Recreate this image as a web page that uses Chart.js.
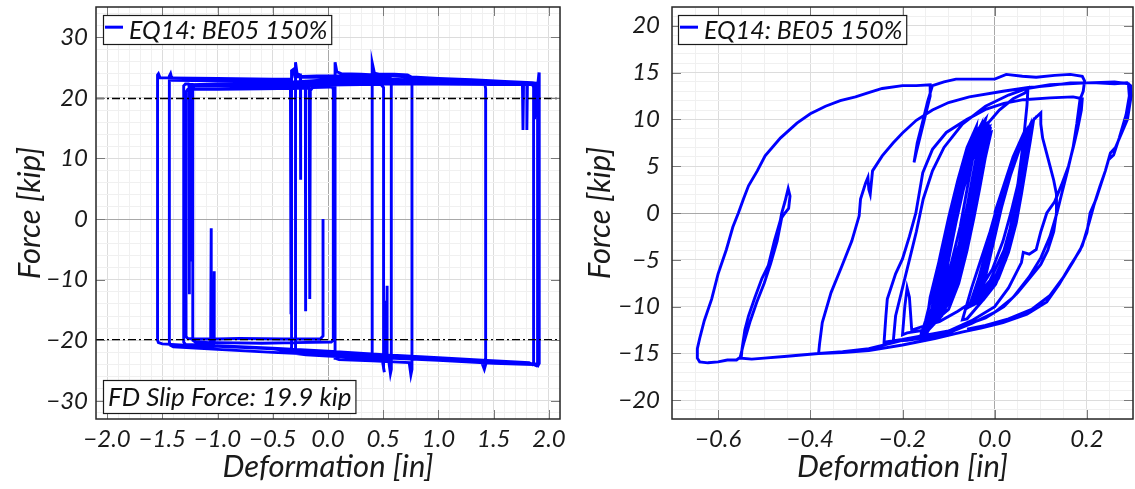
<!DOCTYPE html>
<html><head><meta charset="utf-8">
<script src="https://cdn.jsdelivr.net/npm/chart.js@4.4.0/dist/chart.umd.min.js"></script>
<style>
html,body{margin:0;padding:0;background:#fff;width:1135px;height:489px;overflow:hidden}
canvas{position:absolute;top:0}
#c1{left:0}
#c2{left:567px}
</style></head><body>
<canvas id="c1" width="567" height="489"></canvas>
<canvas id="c2" width="568" height="489"></canvas>
<script>
// ---------------- DATA ----------------
const legendLabel = 'EQ14: BE05 150%';
const slipText = 'FD Slip Force: 19.9 kip';
const slipForce = 19.9;
const slipLineDef = [-2.1, 2.1];

const fdDefTicks = [-2.0, -1.5, -1.0, -0.5, 0.0, 0.5, 1.0, 1.5, 2.0];
const fdForceTicks = [-30, -20, -10, 0, 10, 20, 30];
const wallDefTicks = [-0.6, -0.4, -0.2, 0.0, 0.2];
const wallForceTicks = [-20, -15, -10, -5, 0, 5, 10, 15, 20];

// friction damper hysteresis: [deformation (in), force (kip)]
const fdPath = [
[-0.045,0],[-0.045,-19.3],[-0.07,-19.8],
[-0.4,-19.8],[-0.8,-19.7],[-1.0,-19.8],[-1.2,-19.8],[-1.27,-19.7],[-1.285,-19.4],
[-1.285,21.0],[-1.27,21.4],[-1.0,21.4],[-0.6,21.5],[-0.3,21.6],[-0.17,21.6],
[-0.165,21.5],[-0.165,-13.2],[-0.16,21.2],[-0.14,21.7],[0.02,21.8],[0.04,21.7],
[0.048,21.4],[0.048,-20.0],[0.03,-20.3],[-0.3,-20.4],[-0.6,-20.5],
[-1.0,-20.4],[-1.03,-20.4],[-1.03,-8.6],[-1.035,-20.5],
[-1.057,-20.4],[-1.057,-1.5],[-1.062,-20.4],
[-1.2,-20.3],[-1.224,-20.0],
[-1.224,21.6],[-1.21,21.9],[-0.8,21.9],[-0.4,22.0],[-0.21,22.0],
[-0.205,21.9],[-0.205,-15.2],[-0.2,21.5],[-0.18,22.0],
[0.0,22.1],[0.3,22.2],[0.48,22.2],[0.503,21.7],
[0.503,-24.6],[0.51,-25.3],[0.49,-23.1],
[0.2,-22.8],[0.0,-22.6],[-0.2,-22.3],[-0.3,-22.1],[-0.33,-21.7],
[-0.33,24.5],[-0.315,24.7],[-0.3,23.5],
[-0.1,23.6],[0.2,23.6],[0.5,23.5],[0.56,23.4],[0.573,22.9],
[0.573,-24.8],[0.565,-25.5],[0.55,-23.4],
[0.535,-23.3],[0.535,-11.0],[0.53,-23.3],[0.52,-23.3],[0.52,-13.5],[0.515,-23.3],
[0.43,-23.2],[0.4,-22.9],
[0.4,25.8],[0.42,24.1],[0.46,23.9],[0.6,23.9],[0.72,23.8],[0.75,23.5],[0.76,22.6],
[0.76,-24.8],[0.75,-25.7],[0.735,-23.7],
[0.4,-23.4],[0.1,-23.2],[0.07,-23.0],[0.064,-22.5],
[0.064,25.9],[0.08,24.3],[0.12,24.0],
[0.3,23.9],[0.5,23.7],[0.8,23.4],[1.0,23.2],[1.3,23.0],[1.6,22.7],[1.85,22.5],[1.9,22.4],[1.91,24.2],[1.912,22.3],
[1.912,-23.8],[1.9,-24.2],[1.88,-23.9],
[1.5,-23.5],[1.0,-23.0],[0.5,-22.5],[0.0,-22.1],[-0.3,-21.9],[-0.5,-21.4],[-1.0,-21.0],[-1.3,-20.8],[-1.5,-20.6],[-1.535,-20.4],[-1.543,-20.0],
[-1.543,23.8],[-1.535,24.0],[-1.52,23.3],[-1.45,23.3],
[-1.0,23.2],[-0.5,23.1],[-0.34,23.1],
[-0.335,23.0],[-0.335,-15.7],[-0.33,22.6],
[0.0,23.0],[0.5,22.9],[1.0,22.8],[1.5,22.6],[1.76,22.4],
[1.765,22.4],[1.765,14.7],[1.77,22.3],[1.80,22.3],[1.80,14.7],[1.805,22.3],
[1.86,22.2],[1.87,16.5],[1.878,22.2],[1.897,22.1],
[1.897,-23.9],[1.885,-24.2],[1.86,-24.0],
[1.5,-23.8],[1.0,-23.3],[0.5,-22.9],[0.0,-22.6],[-0.2,-22.4],[-0.28,-22.2],[-0.294,-21.6],
[-0.294,25.9],[-0.28,24.0],[-0.255,23.8],
[-0.25,23.8],[-0.25,6.5],[-0.245,23.4],
[0.0,23.4],[0.5,23.1],[1.0,22.9],[1.38,22.7],[1.42,22.3],[1.427,21.5],
[1.427,-24.0],[1.415,-24.8],[1.39,-23.6],
[1.0,-23.2],[0.5,-22.8],[0.0,-22.4],[-0.5,-22.0],[-1.0,-21.5],[-1.4,-21.1],[-1.43,-20.8],[-1.436,-20.3],
[-1.436,23.6],[-1.425,24.0],[-1.41,22.9],
[-1.0,22.8],[-0.5,22.7],[0.0,22.6],[0.5,22.5],[1.0,22.4],[1.5,22.3],[1.85,22.2],[1.861,21.8],
[1.861,-23.6],[1.85,-24.0],[1.82,-23.7],
[1.4,-23.3],[1.0,-22.9],[0.5,-22.4],[0.0,-21.8],[-0.5,-21.3],[-1.0,-20.9],[-1.29,-20.7],[-1.306,-20.3],
[-1.306,22.0],[-1.29,22.3],[-1.262,22.3],
[-1.258,22.2],[-1.258,-12.4],[-1.252,22.2],
[-1.232,22.2],[-1.232,-7.0],[-1.226,22.2],
[-1.0,22.3],[-0.5,22.3],[0.0,22.3],[0.5,22.3],[1.0,22.3],[1.5,22.2],[1.88,22.2],[1.905,21.8],[1.905,-2.0]
];

// wall hysteresis: [deformation (in), force (kip)]
const wallPath = [
[0,0],[0.02,3],[0.04,6],[0.06,8.2],[0.065,7],[0.05,3],[0.035,0],[0.018,-3],[-0.005,-6],[-0.03,-8],[-0.04,-8.3],
[-0.025,-6],[-0.005,-3],[0.01,0],[0.03,3.5],[0.055,7],[0.075,9.2],
[0.07,7.5],[0.06,4],[0.045,0],[0.03,-3],[0.01,-6],[-0.02,-8.5],[-0.05,-9.2],
[-0.035,-7],[-0.018,-4],[0.0,-1],[0.015,2],[0.04,6],[0.068,8.7],
[0.066,6.5],[0.052,2.5],[0.04,-0.5],[0.02,-4],[-0.01,-7.2],[-0.035,-8.6],
[-0.02,-5.5],[0.002,-1.5],[0.02,2.5],[0.045,6.5],[0.08,9.5],
[0.075,7.8],[0.062,4.2],[0.05,0.5],[0.033,-3],[0.008,-6.5],[-0.025,-8.8],[-0.045,-9.6],
[-0.03,-7.5],[-0.01,-4],[0.006,-0.5],[0.027,3],[0.052,6.8],[0.072,8.9],
[0.068,7],[0.055,3],[0.042,-0.5],[0.022,-4.5],[-0.005,-7.5],[-0.04,-9],
[-0.022,-5],[-0.004,-1.5],[0.012,1.5],[0.032,4.5],[0.055,7.5],[0.078,9.3],
[0.072,7.2],[0.062,4.5],[0.052,1.5],[0.04,-1.5],[0.022,-4.5],[0,-7],[-0.035,-9],
[-0.028,-7],[-0.01,-3.8],[0.008,-0.5],[0.025,2.8],[0.045,5.8],[0.065,8.2],[0.082,9.6],
[0.076,7.4],[0.066,4.6],[0.055,1.6],[0.043,-1.5],[0.026,-4.5],[0.004,-7.2],[-0.03,-9.2],[-0.055,-10],
[-0.04,-8.5],[-0.02,-5.3],[0.0,-1.8],[0.018,1.8],[0.038,5],[0.06,7.8],[0.078,8.8],
[0.07,6.5],[0.058,3.4],[0.047,0.2],[0.032,-3],[0.012,-6],[-0.015,-8.2],[-0.04,-9],
[-0.02,-6],[0.0,-2.5],[0.016,0.8],[0.034,4],[0.055,7],[0.072,8.5],
[0.065,6],[0.054,3],[0.044,0],[0.03,-3.4],[0.01,-6.4],[-0.02,-8.6],[-0.045,-9.4],
[-0.035,-9.4],[-0.018,-6.4],[-0.002,-3],[0.014,0.4],[0.031,3.6],[0.05,6.6],[0.068,8.6],[0.08,9.2],
[0.073,7],[0.063,4],[0.053,1],[0.041,-2],[0.024,-5],[0.002,-7.6],[-0.025,-9.3],[-0.05,-9.9],
[-0.036,-7.8],[-0.016,-4.6],[0.002,-1.2],[0.02,2.2],[0.04,5.4],[0.062,8.2],[0.084,9.8],
[0.077,7.6],[0.068,5],[0.058,2],[0.047,-1],[0.03,-4.2],[0.008,-7],[-0.02,-8.9],[-0.045,-9.5],
[-0.03,-7.2],[-0.012,-4],[0.005,-0.8],[0.022,2.4],[0.042,5.6],[0.062,7.9],[0.076,8.8],
[0.069,6.6],[0.059,3.8],[0.049,0.8],[0.036,-2.4],[0.018,-5.4],[-0.008,-7.9],[-0.04,-9.2],
[-0.08,-10.5],[-0.12,-11.6],[-0.135,-11.8],
[-0.125,-9],[-0.112,-5],[-0.098,-1],[-0.08,3],[-0.055,6.5],[-0.03,8.3],[-0.01,8.9],
[-0.02,6],[-0.035,3],[-0.05,0],[-0.068,-3.5],[-0.09,-7],[-0.115,-10],[-0.14,-12.2],
[-0.13,-9.5],[-0.115,-6],[-0.1,-2],[-0.085,2],[-0.065,5.5],[-0.04,8],[-0.018,9.3],
[-0.025,7],[-0.04,3.5],[-0.055,0],[-0.072,-3.5],[-0.095,-7.5],[-0.12,-10.5],[-0.145,-12.5],
[-0.138,-10.5],[-0.122,-7],[-0.105,-3],[-0.09,1],[-0.07,4.5],[-0.05,7.5],[-0.025,9.6],
[-0.03,7.5],[-0.045,4],[-0.058,0.5],[-0.075,-3],[-0.1,-7],[-0.125,-10.8],[-0.15,-12.8],
[-0.14,-11],[-0.126,-8],[-0.11,-4],[-0.094,0],[-0.075,4],[-0.055,7],[-0.035,9],[-0.02,10],
[-0.035,7],[-0.05,3],[-0.063,0],[-0.08,-4],[-0.105,-8],[-0.13,-11],[-0.16,-13],
[-0.15,-11.5],[-0.135,-8.5],[-0.118,-4.5],[-0.1,-0.5],[-0.08,3.5],[-0.06,7],[-0.04,9.2],
[-0.045,6.5],[-0.06,2.5],[-0.075,-1.5],[-0.095,-5.5],[-0.12,-9.5],[-0.14,-11.8],
[-0.13,-11.5],[-0.12,-8],[-0.108,-4],[-0.096,0],[-0.08,3.5],[-0.06,6.5],[-0.035,8.6],[-0.015,9.2],
[-0.028,6.5],[-0.042,3],[-0.053,0],[-0.068,-3.5],[-0.088,-7],[-0.112,-10],[-0.135,-11.8],
[-0.124,-9],[-0.11,-5.5],[-0.095,-1.5],[-0.078,2.5],[-0.058,6],[-0.035,8.2],[-0.012,9],
[-0.022,6.8],[-0.036,3.5],[-0.048,0.3],[-0.062,-3],[-0.08,-6.5],[-0.105,-9.8],[-0.13,-11.5],
[-0.118,-8.5],[-0.102,-4.5],[-0.088,-1],[-0.072,2.5],[-0.052,5.8],[-0.03,8],[-0.008,8.6],
[-0.02,6],[-0.033,2.5],[-0.045,-0.5],[-0.06,-4],[-0.078,-7.5],[-0.1,-10.3],[-0.122,-11.2],
[-0.112,-8],[-0.098,-4.5],[-0.084,-1],[-0.068,2.5],[-0.05,5.5],[-0.03,7.8],[-0.012,8.4],
[-0.025,5.5],[-0.04,2],[-0.054,-1.5],[-0.07,-5],[-0.09,-8.5],[-0.115,-11],[-0.14,-12.3],
[-0.134,-10],[-0.12,-6.5],[-0.104,-2.5],[-0.09,1],[-0.073,4.5],[-0.052,7.3],[-0.03,9.4],
[-0.04,6],[-0.055,2],[-0.068,-1.5],[-0.085,-5],[-0.105,-8.5],[-0.128,-11.3],[-0.15,-12.6],
[-0.128,-9.8],[-0.116,-6.5],[-0.103,-3],[-0.092,0],[-0.078,3],[-0.06,6],[-0.04,8],[-0.02,9],
[-0.03,6.8],[-0.044,3.6],[-0.056,0.6],[-0.07,-2.6],[-0.086,-5.8],[-0.104,-8.8],[-0.126,-11.2],[-0.145,-12.2],
[-0.134,-9.6],[-0.12,-6.2],[-0.106,-2.8],[-0.093,0.4],[-0.077,3.8],[-0.058,6.8],[-0.036,8.8],[-0.016,9.6],
[-0.026,7.2],[-0.039,4],[-0.051,1],[-0.064,-2.2],[-0.081,-5.6],[-0.1,-8.8],[-0.12,-11],[-0.138,-12],
[-0.128,-10],[-0.114,-7],[-0.1,-3.6],[-0.087,-0.4],[-0.072,3],[-0.054,6.2],[-0.034,8.4],[-0.011,9.2],
[-0.023,6.6],[-0.036,3.2],[-0.049,0],[-0.063,-3.3],[-0.08,-6.8],[-0.1,-9.6],[-0.124,-11.6],
[-0.18,-12.5],[-0.185,-9],[-0.19,-8],[-0.195,-10],[-0.2,-13],[-0.19,-12.8],
[-0.15,-12.5],[-0.14,-9],[-0.12,-5],[-0.1,-1],[-0.08,3],[-0.055,6.5],[-0.025,9],[0.01,11],[0.04,12.2],[0.065,12.8],[0.072,13.2],
[0.07,11.5],[0.065,9],[0.058,6],[0.05,3],[0.04,0],[0.028,-3],[0.01,-6],[-0.02,-9],[-0.06,-11.3],[-0.07,-11.4],
[-0.05,-8],[-0.03,-5],[-0.01,-2],[0.01,1.5],[0.035,5],[0.06,8],[0.085,10],[0.1,10.7],
[0.1,9.5],[0.104,8],[0.112,6.5],[0.12,5],[0.128,3.5],[0.134,2],[0.134,0],[0.128,-2],[0.115,-4],[0.1,-5.5],[0.075,-7],[0.05,-8.5],[0.02,-10],[-0.02,-11.2],[-0.1,-12.6],[-0.2,-13.5],[-0.24,-13.8],
[-0.236,-11],[-0.233,-9.2],[-0.215,-6.5],[-0.2,-4.9],[-0.185,-2.5],[-0.171,0],[-0.156,4.3],[-0.135,6.8],[-0.105,8.6],[-0.06,10],[-0.018,11.1],[0.02,11.7],[0.062,12.1],[0.12,12.3],[0.17,12.4],[0.19,12.2],
[0.188,11],[0.18,9],[0.171,7.1],[0.16,5],[0.145,3],[0.13,1.2],[0.113,0],[0.1,-2],[0.09,-3.9],[0.075,-4.4],[0.062,-4.2],[0.058,-5.3],[0.03,-8],[0.0,-10],[-0.05,-11.5],[-0.1,-12.6],[-0.15,-13.3],[-0.2,-13.6],
[-0.273,-14.5],[-0.33,-14.8],[-0.382,-15.0],
[-0.38,-14],[-0.374,-11.7],[-0.355,-8.5],[-0.331,-5.6],[-0.31,-3],[-0.294,-0.3],[-0.291,1.5],[-0.28,3.2],[-0.275,3.8],[-0.273,2.5],[-0.27,2.0],
[-0.265,4.5],[-0.244,6.1],[-0.22,7.5],[-0.2,8.55],[-0.17,9.9],[-0.135,11.0],[-0.1,11.8],[-0.055,12.4],[0.018,13.0],[0.073,13.4],[0.12,13.6],[0.164,13.9],[0.22,13.9],[0.26,13.8],[0.287,13.9],[0.295,13.6],
[0.296,12.5],[0.288,10],[0.275,8.5],[0.262,7],[0.251,6.4],[0.24,4.5],[0.23,3],[0.22,1.5],[0.207,0],[0.2,-2.1],[0.185,-4],[0.164,-5.6],[0.14,-7.6],[0.113,-9.5],[0.07,-10.8],[0.018,-11.7],[-0.03,-12.3],[-0.069,-12.7],[-0.13,-13.4],[-0.2,-14.1],[-0.273,-14.7],[-0.33,-14.9],[-0.382,-15.0],[-0.45,-15.3],[-0.5,-15.5],[-0.527,-15.6],[-0.55,-15.5],
[-0.548,-14.5],[-0.542,-12.5],[-0.534,-11.0],[-0.52,-9],[-0.505,-7],[-0.491,-5.6],[-0.478,-3],[-0.465,-0.8],[-0.462,0],[-0.455,1.2],[-0.448,2.6],[-0.444,1.8],[-0.447,0.5],[-0.458,-0.2],[-0.462,-0.5],
[-0.472,-3],[-0.486,-5.4],[-0.5,-7.5],[-0.516,-9.5],[-0.53,-11.5],[-0.545,-14],[-0.552,-15.4],[-0.56,-15.7],
[-0.58,-15.7],[-0.6,-15.9],[-0.622,-16.0],[-0.64,-15.9],[-0.645,-15.5],
[-0.645,-14.5],[-0.64,-13.4],[-0.63,-11.5],[-0.614,-9.2],[-0.6,-6.5],[-0.582,-3.9],[-0.568,-1.5],[-0.556,0],[-0.545,1.5],[-0.534,2.9],[-0.515,4.5],[-0.498,6.1],[-0.465,8],[-0.429,9.6],[-0.4,10.6],[-0.367,11.4],[-0.335,12.0],[-0.302,12.4],[-0.27,12.9],[-0.244,13.3],[-0.2,13.6],[-0.17,13.6],[-0.14,13.7],
[-0.14,12.5],[-0.15,10.5],[-0.16,8.5],[-0.17,6.5],[-0.175,5.4],[-0.168,7.5],[-0.155,10],[-0.145,12],[-0.135,13.6],
[-0.11,14.0],[-0.084,14.3],[-0.04,14.3],[0,14.3],[0.025,14.8],[0.06,14.6],[0.09,14.5],[0.13,14.7],[0.164,14.8],[0.19,14.6],[0.195,14.1],
[0.192,13],[0.185,12.1],[0.178,9.5],[0.17,7],[0.158,4.5],[0.145,2],[0.135,0],[0.12,-2.5],[0.1,-4.8],[0.075,-6.8],[0.04,-9],[0.0,-10.6],[-0.05,-11.8],[-0.1,-12.8],[-0.15,-13.3],[-0.19,-13.6],[-0.22,-13.7],
[-0.215,-11],[-0.2,-8],[-0.185,-5],[-0.17,-2],[-0.155,1.5],[-0.135,4.5],[-0.11,7],[-0.07,9.5],[-0.02,11.4],[0.03,12.6],[0.07,13.3],[0.12,13.7],[0.2,13.9],[0.26,14.0],[0.29,13.8],
[0.292,12.5],[0.285,10.5],[0.27,8],[0.258,6.2],[0.247,5.7],[0.24,4.5],[0.228,2.8],[0.215,0.8],[0.205,-1],[0.19,-3.5],[0.17,-5.2],[0.15,-6.8],[0.12,-8.8],[0.08,-10.3],[0.03,-11.3],[-0.02,-12],[-0.06,-12.4]
];

// ---------------- HELPERS ----------------
const FONT = 'Lato, "Open Sans", sans-serif';
const BLUE = '#0000ff';

function fmt(v, dec) {
  const s = Math.abs(v).toFixed(dec);
  return (v < -1e-9 ? '\u2212' : '') + s;
}
function isMajor(v, majors) { return majors.some(m => Math.abs(m - v) < 1e-6); }

function axis(min, max, step, majors, dec, title, horizontal, fitSize, titlePad, tickPad) {
  const gridVals = [];
  const k0 = Math.ceil(min / step - 1e-9), k1 = Math.floor(max / step + 1e-9);
  for (let k = k0; k <= k1; k++) gridVals.push(Math.round(k * step * 1e6) / 1e6);
  return {
    type: 'linear', min, max,
    afterBuildTicks: (sc) => { sc.ticks = gridVals.map(v => ({ value: v })); },
    afterFit: (sc) => {
      if (horizontal) { sc.height = fitSize; sc.paddingLeft = 0; sc.paddingRight = 0; }
      else { sc.width = fitSize; sc.paddingTop = 0; sc.paddingBottom = 0; }
    },
    ticks: {
      autoSkip: false, maxRotation: 0, minRotation: 0, padding: tickPad,
      color: '#1a1a1a',
      font: { family: FONT, style: 'italic', size: 24 },
      callback: (v) => isMajor(v, majors) ? fmt(v, dec) : ''
    },
    grid: {
      drawTicks: false,
      lineWidth: 1,
      color: (c) => {
        const v = c.tick ? c.tick.value : 0;
        if (Math.abs(v) < 1e-9) return '#a8a8a8';
        if (isMajor(v, majors)) return '#dcdcdc';
        return '#f0f0f0';
      }
    },
    border: { display: false },
    title: {
      display: true, text: title, color: '#1a1a1a',
      font: { family: FONT, style: 'italic', size: 31 },
      padding: horizontal ? { top: 0, bottom: titlePad } : { top: titlePad, bottom: 0 }
    }
  };
}

const framePlugin = {
  id: 'frame',
  afterDatasetsDraw(chart) {
    const { ctx, chartArea: a, scales } = chart;
    const o = chart.options.plugins.frame;
    ctx.save();
    ctx.strokeStyle = '#7a7a7a'; ctx.lineWidth = 1;
    ctx.beginPath();
    o.xMajors.forEach(v => {
      const px = Math.round(scales.x.getPixelForValue(v)) + 0.5;
      ctx.moveTo(px, a.bottom); ctx.lineTo(px, a.bottom - 9);
      ctx.moveTo(px, a.top); ctx.lineTo(px, a.top + 9);
    });
    o.yMajors.forEach(v => {
      const py = Math.round(scales.y.getPixelForValue(v)) + 0.5;
      ctx.moveTo(a.left, py); ctx.lineTo(a.left + 9, py);
      ctx.moveTo(a.right, py); ctx.lineTo(a.right - 9, py);
    });
    ctx.stroke();
    ctx.strokeStyle = '#262626'; ctx.lineWidth = 1.5;
    ctx.strokeRect(a.left, a.top, a.right - a.left, a.bottom - a.top);
    o.boxes.forEach(b => {
      ctx.font = 'italic ' + b.size + 'px ' + FONT;
      const tw = ctx.measureText(b.text).width;
      const bx = a.left + b.dx;
      const by = b.fromBottom ? a.bottom - b.dy - b.h : a.top + b.dy;
      const textX = bx + (b.sample ? 26 : 5);
      const bw = (textX - bx) + tw + 4;
      ctx.fillStyle = '#fff';
      ctx.fillRect(bx, by, bw, b.h);
      ctx.strokeStyle = '#1a1a1a'; ctx.lineWidth = 1.2;
      ctx.strokeRect(bx + 0.5, by + 0.5, bw, b.h);
      if (b.sample) {
        ctx.strokeStyle = BLUE; ctx.lineWidth = 3;
        ctx.beginPath(); ctx.moveTo(bx + 2, by + b.h * 0.42); ctx.lineTo(bx + 20, by + b.h * 0.42); ctx.stroke();
      }
      ctx.fillStyle = '#111';
      ctx.textBaseline = 'middle'; ctx.textAlign = 'left';
      ctx.fillText(b.text, textX, by + b.h / 2 + 1);
    });
    ctx.restore();
  }
};

function pts(arr) { return arr.map(p => ({ x: p[0], y: p[1] })); }

// ---------------- LEFT: friction damper ----------------
new Chart(document.getElementById('c1'), {
  type: 'scatter',
  data: {
    datasets: [
      { data: slipLineDef.map(x => ({ x, y: slipForce })), showLine: true, borderColor: '#000', borderWidth: 1.3, borderDash: [8, 3, 2, 3], pointRadius: 0 },
      { data: slipLineDef.map(x => ({ x, y: -slipForce })), showLine: true, borderColor: '#000', borderWidth: 1.3, borderDash: [8, 3, 2, 3], pointRadius: 0 },
      { label: legendLabel, data: pts(fdPath), showLine: true, borderColor: BLUE, borderWidth: 2.9, pointRadius: 0, tension: 0 }
    ]
  },
  options: {
    responsive: false, animation: false, events: [],
    layout: { padding: { top: 7, right: 7, left: 0, bottom: 0 } },
    scales: {
      x: axis(-2.1, 2.1, 0.1, fdDefTicks, 1, 'Deformation [in]', true, 70, 3, 6),
      y: axis(-33, 35, 2, fdForceTicks, 0, 'Force [kip]', false, 96, 11, 8)
    },
    plugins: {
      legend: { display: false }, tooltip: { enabled: false },
      frame: {
        xMajors: fdDefTicks, yMajors: fdForceTicks,
        boxes: [
          { text: legendLabel, size: 25, dx: 7, dy: 8, h: 29, sample: true },
          { text: slipText, size: 26, dx: 7, dy: 6, h: 33, fromBottom: true }
        ]
      }
    }
  },
  plugins: [framePlugin]
});

// ---------------- RIGHT: wall ----------------
new Chart(document.getElementById('c2'), {
  type: 'scatter',
  data: {
    datasets: [
      { label: legendLabel, data: pts(wallPath), showLine: true, borderColor: BLUE, borderWidth: 2.9, pointRadius: 0, tension: 0 }
    ]
  },
  options: {
    responsive: false, animation: false, events: [],
    layout: { padding: { top: 7, right: 2, left: 0, bottom: 0 } },
    scales: {
      x: axis(-0.7, 0.3, 0.05, wallDefTicks, 1, 'Deformation [in]', true, 70, 3, 6),
      y: axis(-22, 22, 1, wallForceTicks, 0, 'Force [kip]', false, 105, 14, 12)
    },
    plugins: {
      legend: { display: false }, tooltip: { enabled: false },
      frame: {
        xMajors: wallDefTicks, yMajors: wallForceTicks,
        boxes: [
          { text: legendLabel, size: 25, dx: 6, dy: 8, h: 29, sample: true }
        ]
      }
    }
  },
  plugins: [framePlugin]
});
</script>
</body></html>
